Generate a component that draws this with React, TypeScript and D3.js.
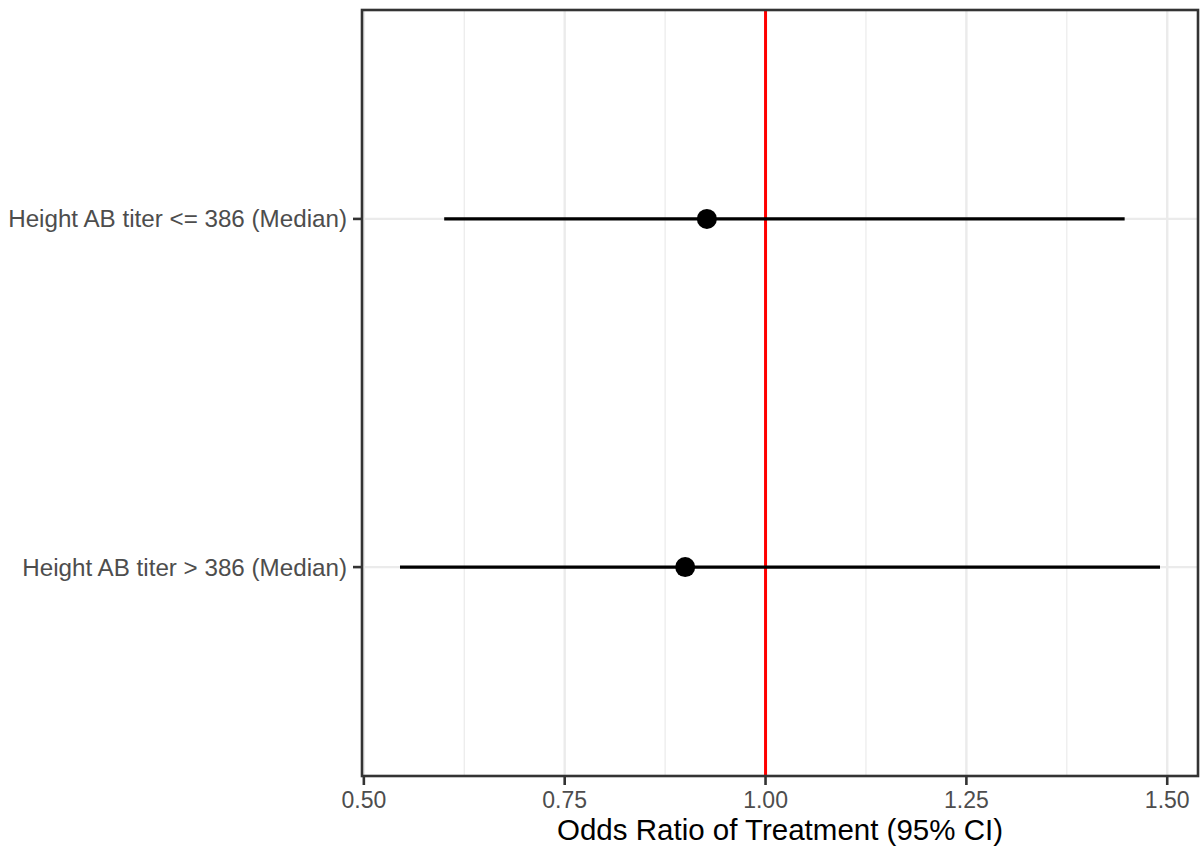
import React, { useEffect } from "react";
import * as d3 from "d3";

// forest plot rows, top to bottom
const labels = [
  "Height AB titer <= 386 (Median)",
  "Height AB titer > 386 (Median)",
];
const estimate = [0.927, 0.9];
const lower = [0.6, 0.545];
const upper = [1.447, 1.491];
const xTicks = [0.5, 0.75, 1.0, 1.25, 1.5];
const xMinor = [0.625, 0.875, 1.125, 1.375];
const refLine = 1.0;
const xTitle = "Odds Ratio of Treatment (95% CI)";

const W = 1200;
const H = 850;
const margin = { left: 362, right: 2, top: 10, bottom: 74 };

export default function App() {
  useEffect(() => {
    document.body.style.margin = "0";
  }, []);

  const lo = d3.min(lower) as number;
  const hi = d3.max(upper) as number;
  const pad = (hi - lo) * 0.05;
  const x = d3
    .scaleLinear()
    .domain([lo - pad, hi + pad])
    .range([margin.left, W - margin.right]);

  // discrete axis like ggplot: 0.6 units of padding either end
  const y = d3
    .scaleLinear()
    .domain([-0.6, labels.length - 1 + 0.6])
    .range([margin.top, H - margin.bottom]);

  const font = "'Liberation Sans', Arial, sans-serif";
  const top = margin.top;
  const bottom = H - margin.bottom;
  const left = margin.left;
  const right = W - margin.right;

  return (
    <svg width={W} height={H} style={{ display: "block", background: "#fff" }}>
      {/* grid */}
      {xMinor.map((t) => (
        <line key={"mn" + t} x1={x(t)} x2={x(t)} y1={top} y2={bottom} stroke="#EBEBEB" strokeWidth={1.2} />
      ))}
      {xTicks.map((t) => (
        <line key={"mj" + t} x1={x(t)} x2={x(t)} y1={top} y2={bottom} stroke="#EBEBEB" strokeWidth={2.4} />
      ))}
      {labels.map((l, i) => (
        <line key={"hg" + i} x1={left} x2={right} y1={y(i)} y2={y(i)} stroke="#EBEBEB" strokeWidth={2.4} />
      ))}

      {/* reference line */}
      <line x1={x(refLine)} x2={x(refLine)} y1={top} y2={bottom} stroke="#FF0000" strokeWidth={3} />

      {/* intervals and points */}
      {labels.map((l, i) => (
        <g key={"row" + i}>
          <line x1={x(lower[i])} x2={x(upper[i])} y1={y(i)} y2={y(i)} stroke="#000" strokeWidth={3.2} />
          <circle cx={x(estimate[i])} cy={y(i)} r={10} fill="#000" />
        </g>
      ))}

      {/* panel border */}
      <rect x={left} y={top} width={right - left} height={bottom - top} fill="none" stroke="#333333" strokeWidth={2.6} />

      {/* y axis */}
      {labels.map((l, i) => (
        <g key={"yt" + i}>
          <line x1={left - 9} x2={left} y1={y(i)} y2={y(i)} stroke="#333333" strokeWidth={2.6} />
          <text
            x={left - 15}
            y={y(i)}
            dy="0.35em"
            textAnchor="end"
            fontFamily={font}
            fontSize={24.2}
            fill="#4D4D4D"
          >
            {l}
          </text>
        </g>
      ))}

      {/* x axis */}
      {xTicks.map((t) => (
        <g key={"xt" + t}>
          <line x1={x(t)} x2={x(t)} y1={bottom} y2={bottom + 9} stroke="#333333" strokeWidth={2.6} />
          <text
            x={x(t)}
            y={bottom + 32}
            textAnchor="middle"
            fontFamily={font}
            fontSize={23}
            fill="#4D4D4D"
          >
            {d3.format(".2f")(t)}
          </text>
        </g>
      ))}
      <text
        x={(left + right) / 2}
        y={H - 10}
        textAnchor="middle"
        fontFamily={font}
        fontSize={29.5}
        fill="#000"
      >
        {xTitle}
      </text>
    </svg>
  );
}
